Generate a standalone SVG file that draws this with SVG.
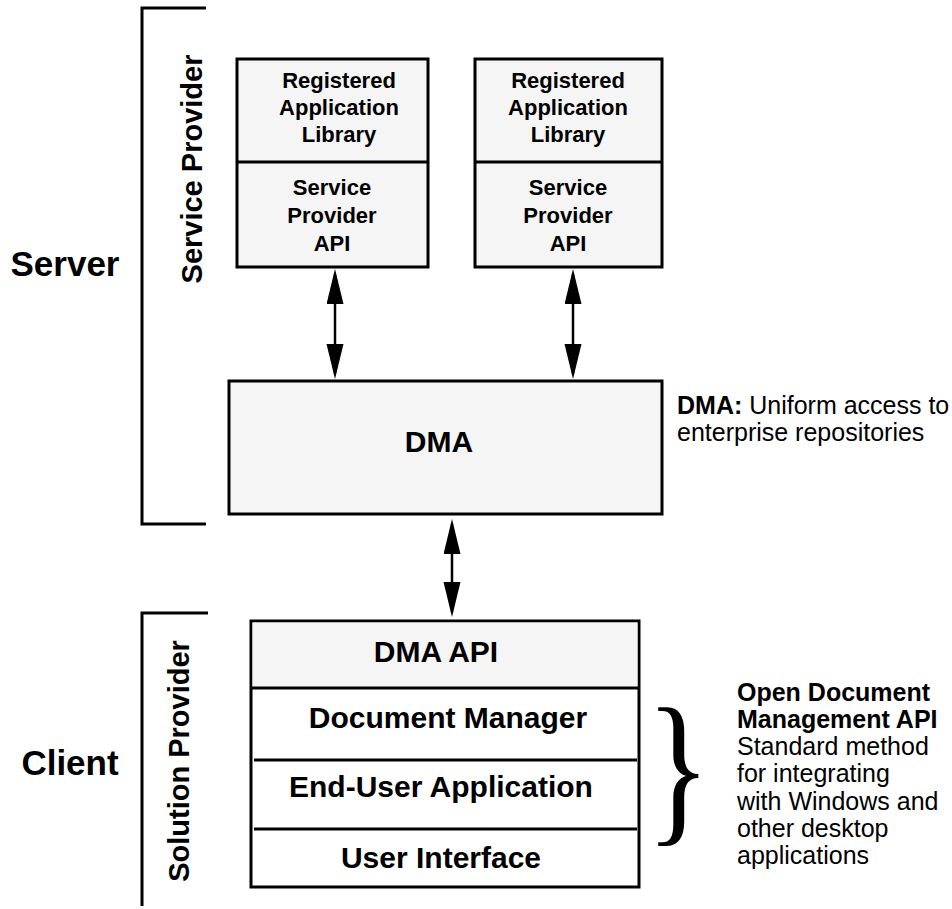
<svg xmlns="http://www.w3.org/2000/svg" width="952" height="909" viewBox="0 0 952 909">
  <style>
    .box { fill: #f5f5f5; stroke: #000; stroke-width: 3; }
    .plain { fill: #fff; stroke: #000; stroke-width: 3; }
    .rule { stroke: #000; stroke-width: 3; fill: none; }
    .bracket { stroke: #000; stroke-width: 3; fill: none; }
    .link { stroke: #000; stroke-width: 2.5; fill: none; marker-start: url(#head); marker-end: url(#head); }
    text { font-family: "Liberation Sans", Arial, sans-serif; fill: #000; }
    .sm { font-size: 22px; font-weight: bold; text-anchor: middle; }
    .lg { font-size: 30px; font-weight: bold; text-anchor: middle; }
    .tier { font-size: 35px; font-weight: bold; text-anchor: middle; }
    .side { font-size: 29px; font-weight: bold; text-anchor: middle; }
    .note { font-size: 25px; }
    .b { font-weight: bold; }
  </style>
  <defs>
    <marker id="head" markerUnits="userSpaceOnUse" markerWidth="36" markerHeight="18" refX="30" refY="8.5" orient="auto-start-reverse">
      <path d="M0,0 L35,8.5 L0,17 Z" fill="#000"/>
    </marker>
  </defs>

  <!-- tier labels and brackets -->
  <g id="server-tier">
    <text class="tier" x="65" y="276">Server</text>
    <path class="bracket" d="M206,8 H142 V524 H206"/>
    <text class="side" transform="translate(202,169) rotate(-90)">Service Provider</text>
  </g>
  <g id="client-tier">
    <text class="tier" x="70" y="775">Client</text>
    <path class="bracket" d="M208,613 H142 V906"/>
    <text class="side" transform="translate(189,761) rotate(-90)">Solution Provider</text>
  </g>

  <!-- registered library stacks -->
  <g id="library-left">
    <rect class="box" x="237" y="59" width="191" height="208"/>
    <line class="rule" x1="237" y1="162" x2="428" y2="162"/>
    <text class="sm" x="339" y="88">Registered</text>
    <text class="sm" x="339" y="115">Application</text>
    <text class="sm" x="339" y="142">Library</text>
    <text class="sm" x="332" y="195">Service</text>
    <text class="sm" x="332" y="223">Provider</text>
    <text class="sm" x="332" y="251">API</text>
  </g>
  <g id="library-right">
    <rect class="box" x="475" y="59" width="187" height="208"/>
    <line class="rule" x1="475" y1="162" x2="662" y2="162"/>
    <text class="sm" x="568" y="88">Registered</text>
    <text class="sm" x="568" y="115">Application</text>
    <text class="sm" x="568" y="142">Library</text>
    <text class="sm" x="568" y="195">Service</text>
    <text class="sm" x="568" y="223">Provider</text>
    <text class="sm" x="568" y="251">API</text>
  </g>

  <!-- middleware layer -->
  <g id="dma">
    <rect class="box" x="229" y="381" width="433" height="133"/>
    <text class="lg" x="439" y="452">DMA</text>
  </g>
  <g id="dma-note">
    <text class="note" x="677" y="414"><tspan class="b">DMA:</tspan> Uniform access to</text>
    <text class="note" x="677" y="441">enterprise repositories</text>
  </g>

  <!-- client stack -->
  <g id="client-stack">
    <rect class="plain" x="251" y="621" width="388" height="266"/>
    <rect x="252.5" y="622.5" width="385" height="65.5" fill="#f5f5f5"/>
    <line class="rule" x1="251" y1="688" x2="639" y2="688"/>
    <line class="rule" x1="254" y1="760" x2="637" y2="760"/>
    <line class="rule" x1="254" y1="829" x2="637" y2="829"/>
    <text class="lg" x="436" y="662">DMA API</text>
    <text class="lg" x="448" y="728">Document Manager</text>
    <text class="lg" x="441" y="797">End-User Application</text>
    <text class="lg" x="441" y="868">User Interface</text>
  </g>
  <g id="odma-note">
    <text transform="translate(646,824) scale(0.8,1)" style="font-family: 'Liberation Serif', 'Times New Roman', serif; font-size: 168px;">}</text>
    <text class="note b" x="737" y="701">Open Document</text>
    <text class="note b" x="737" y="728">Management API</text>
    <text class="note" x="737" y="755">Standard method</text>
    <text class="note" x="737" y="782">for integrating</text>
    <text class="note" x="737" y="810">with Windows and</text>
    <text class="note" x="737" y="837">other desktop</text>
    <text class="note" x="737" y="864">applications</text>
  </g>

  <!-- connectors -->
  <g id="connectors">
    <line class="link" x1="335" y1="274" x2="335" y2="374"/>
    <line class="link" x1="573" y1="274" x2="573" y2="374"/>
    <line class="link" x1="452" y1="524" x2="452" y2="612"/>
  </g>
</svg>
